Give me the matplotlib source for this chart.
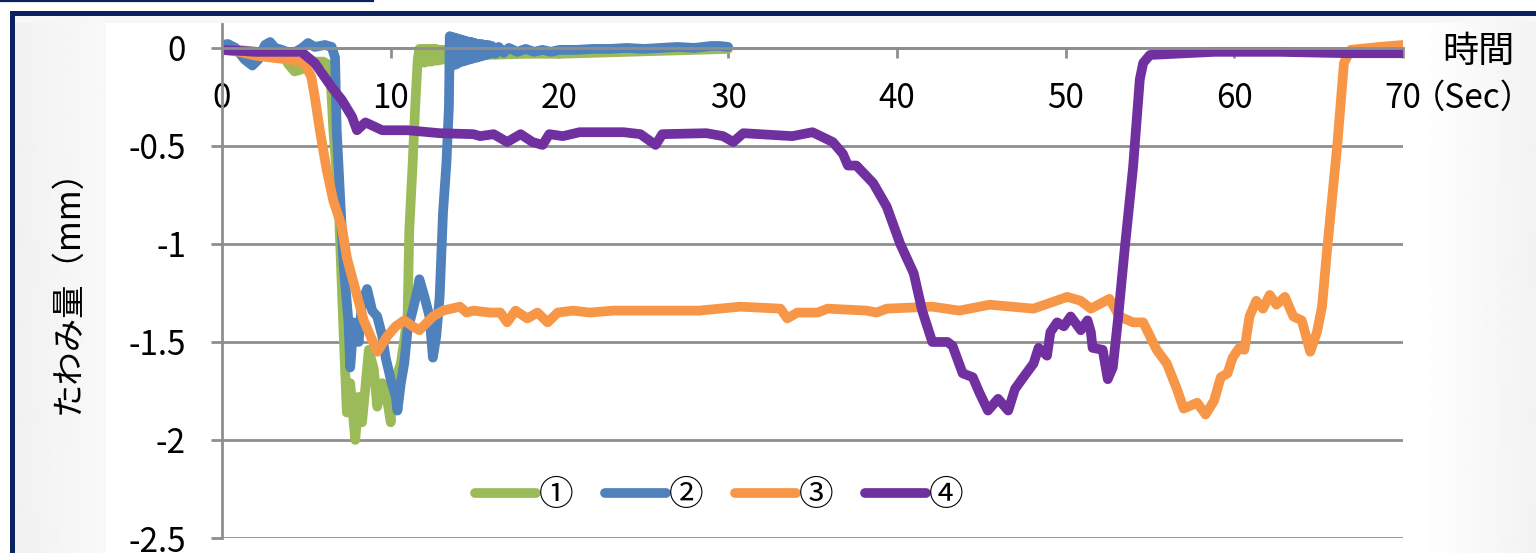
import matplotlib
matplotlib.use("Agg")
import numpy as np
import matplotlib.pyplot as plt
from matplotlib.patches import Rectangle
from matplotlib.lines import Line2D

plt.rcParams['font.family'] = ['Noto Sans CJK JP', 'DejaVu Sans']
plt.rcParams['axes.unicode_minus'] = False

# ---------------- data ----------------
series_labels = ['①', '②', '③', '④']
series_colors = ['#9BBB59', '#4F81BD', '#F79646', '#7030A0']

x_ticks = [0, 10, 20, 30, 40, 50, 60, 70]
y_ticks = [0, -0.5, -1, -1.5, -2, -2.5]
y_tick_labels = ['0', '-0.5', '-1', '-1.5', '-2', '-2.5']

t1 = [0, 1, 2, 3, 3.6, 4.0, 4.3, 4.7, 5.0, 5.5, 6.0, 6.4, 6.6, 6.9, 7.2, 7.4, 7.6, 7.9, 8.1, 8.3,
      8.5, 8.7, 9.0, 9.2, 9.5, 9.8, 10.0, 10.1, 10.4, 10.6, 11.0, 11.1, 11.3, 11.45, 11.6, 11.7, 11.8, 11.9, 12.0, 12.1,
      12.2, 12.3, 12.4, 12.5, 12.6, 12.7, 12.8, 12.9, 13.0, 13.1, 13.2, 13.3, 13.4, 13.6, 14, 15, 16, 18, 20, 22,
      24, 26, 28, 30]
v1 = [0.0, -0.01, -0.02, -0.03, -0.04, -0.09, -0.12, -0.11, -0.08, -0.07, -0.07, -0.09, -0.42, -0.76, -1.44, -1.86, -1.71, -2.0, -1.78, -1.91,
      -1.73, -1.54, -1.64, -1.83, -1.71, -1.80, -1.91, -1.71, -1.66, -1.61, -1.37, -0.93, -0.59, -0.3, -0.06, -0.005, -0.075, -0.005, -0.075, -0.005,
      -0.07, -0.005, -0.07, -0.005, -0.065, -0.005, -0.065, -0.01, -0.06, -0.01, -0.06, -0.01, -0.055, -0.035, -0.04, -0.035, -0.035, -0.03, -0.03, -0.025,
      -0.02, -0.015, -0.01, -0.005]

t2 = [0, 0.35, 0.8, 1.35, 1.8, 2.15, 2.55, 2.85, 3.15, 3.55, 4.15, 4.75, 5.1, 5.5, 6.1, 6.5, 6.7,
      6.8, 7.0, 7.2, 7.5, 7.6, 7.8, 8.1, 8.3, 8.6, 8.9, 9.2, 9.5, 9.7, 10.0, 10.3, 10.4, 10.6, 10.8, 11.0,
      11.3, 11.6, 11.7, 12.0, 12.3, 12.5, 12.7, 12.9, 13.1, 13.3, 13.45,
      13.50, 13.55, 13.60, 13.65, 13.70, 13.75, 13.80, 13.85, 13.90, 13.95, 14.00, 14.05, 14.10, 14.15, 14.20, 14.25,
      14.30, 14.35, 14.40, 14.45, 14.50, 14.55, 14.60, 14.65, 14.70, 14.75, 14.80, 14.85, 14.90, 14.95, 15.00,
      15.1, 15.2, 15.3, 15.4, 15.5, 15.6, 15.7, 15.8, 15.9, 16.0,
      16.2, 16.4, 16.7, 17.0, 17.5, 18.0, 18.5, 19.0, 19.5, 20,
      21, 22, 23, 24, 25, 26, 27, 28, 29, 29.5, 30]
v2 = [0.015, 0.02, 0.0, -0.06, -0.09, -0.06, 0.015, 0.03, 0.0, -0.01, -0.03, 0.0, 0.025, 0.005, 0.015, 0.005, -0.05,
      -0.42, -0.76, -1.1, -1.40, -1.63, -1.40, -1.50, -1.30, -1.23, -1.34, -1.37, -1.47, -1.58, -1.69, -1.78, -1.85, -1.71, -1.61, -1.44,
      -1.34, -1.23, -1.18, -1.27, -1.37, -1.58, -1.47, -1.27, -0.84, -0.59, -0.3,
      0.06, -0.09, 0.055, -0.09, 0.055, -0.085, 0.05, -0.085, 0.05, -0.08, 0.045, -0.075, 0.045, -0.07, 0.04, -0.07,
      0.04, -0.065, 0.035, -0.065, 0.035, -0.06, 0.03, -0.06, 0.03, -0.055, 0.03, -0.055, 0.025, -0.05, 0.025,
      -0.05, 0.02, -0.045, 0.02, -0.04, 0.015, -0.035, 0.015, -0.03, 0.01,
      -0.03, 0.005, -0.025, 0.0, -0.02, -0.005, -0.02, -0.01, -0.02, -0.01,
      -0.01, -0.005, -0.005, 0.0, -0.005, 0.0, 0.005, 0.0, 0.01, 0.01, 0.005]

t3 = [0, 1, 2, 3, 4, 4.6, 4.9, 5.3, 5.5, 5.8, 6.2, 6.6, 7.1, 7.4, 7.9, 8.4, 8.9, 9.2, 9.8, 10.3,
      10.8, 11.3, 11.7, 12.5, 13.1, 14.1, 14.5, 14.9, 15.9, 16.5, 16.9, 17.4, 18.1, 18.7, 19.3, 19.9, 20.8, 21.8, 23.2, 25.8,
      28.3, 30.7, 33.1, 33.5, 34.1, 35.3, 35.9, 38.2, 38.8, 39.4, 42.1, 43.7, 45.5, 48.1, 50.1, 50.9, 51.5, 52.6, 53.2, 54.0,
      54.6, 55.4, 56.0, 56.6, 57.0, 57.8, 58.3, 58.8, 59.2, 59.6, 59.9, 60.3, 60.6, 60.9, 61.3, 61.7, 62.1, 62.5, 63.0, 63.5,
      64.0, 64.5, 64.9, 65.2, 65.5, 66.1, 66.5, 66.9, 68.6, 70]
v3 = [-0.01, -0.02, -0.04, -0.05, -0.06, -0.07, -0.08, -0.15, -0.25, -0.42, -0.62, -0.78, -0.91, -1.07, -1.23, -1.39, -1.49, -1.55, -1.47, -1.42,
      -1.39, -1.42, -1.44, -1.37, -1.34, -1.32, -1.35, -1.34, -1.35, -1.35, -1.40, -1.34, -1.38, -1.35, -1.40, -1.35, -1.34, -1.35, -1.34, -1.34,
      -1.34, -1.32, -1.33, -1.38, -1.35, -1.35, -1.33, -1.34, -1.35, -1.33, -1.32, -1.34, -1.31, -1.33, -1.27, -1.29, -1.33, -1.28, -1.37, -1.40,
      -1.40, -1.54, -1.61, -1.74, -1.84, -1.81, -1.87, -1.80, -1.68, -1.66, -1.58, -1.53, -1.54, -1.37, -1.29, -1.33, -1.26, -1.31, -1.27, -1.37,
      -1.39, -1.55, -1.45, -1.32, -1.03, -0.5, -0.077, -0.01, 0.005, 0.015]

t4 = [0, 1, 2, 3, 4, 4.7, 5.5, 6.5, 7.1, 7.7, 8.0, 8.5, 9.5, 11.0, 12.9, 14.9, 15.3, 16.1, 16.9, 17.7,
      18.4, 19.0, 19.4, 20.2, 21.2, 23.8, 24.8, 25.7, 26.1, 28.7, 29.7, 30.3, 30.9, 33.8, 35.0, 36.2, 36.8, 37.1, 37.6, 38.6,
      39.4, 40.2, 41.0, 41.5, 42.1, 43.0, 43.3, 43.9, 44.5, 44.9, 45.4, 46.0, 46.6, 47.0, 47.5, 48.1, 48.4, 48.9, 49.1, 49.5,
      49.9, 50.3, 50.9, 51.3, 51.5, 51.6, 52.2, 52.5, 52.8, 53.1, 53.5, 54.0, 54.4, 54.6, 55.0, 58.8, 62.7, 66.7, 70]
v4 = [-0.01, -0.015, -0.02, -0.02, -0.02, -0.02, -0.077, -0.2, -0.265, -0.35, -0.42, -0.38, -0.42, -0.42, -0.435, -0.44, -0.45, -0.44, -0.48, -0.44,
      -0.48, -0.495, -0.44, -0.45, -0.43, -0.43, -0.44, -0.495, -0.44, -0.435, -0.45, -0.48, -0.435, -0.45, -0.43, -0.48, -0.54, -0.6, -0.6, -0.69,
      -0.81, -1.0, -1.15, -1.34, -1.5, -1.5, -1.52, -1.66, -1.68, -1.76, -1.85, -1.79, -1.85, -1.74, -1.68, -1.61, -1.53, -1.57, -1.45, -1.40,
      -1.42, -1.37, -1.44, -1.39, -1.45, -1.53, -1.54, -1.69, -1.63, -1.39, -1.03, -0.61, -0.16, -0.077, -0.036, -0.02, -0.02, -0.027, -0.027]

series_t = [t1, t2, t3, t4]
series_v = [v1, v2, v3, v4]
for a, b in zip(series_t, series_v):
    assert len(a) == len(b), (len(a), len(b))

# ---------------- figure ----------------
W, H = 1536, 553
fig = plt.figure(figsize=(W / 100, H / 100), dpi=100)
fig.patch.set_facecolor('white')

def fx(px):
    return px / W

def fy(py):
    return 1 - py / H

navy = '#0B2260'

# slide background gradient inside the frame (decorative)
bg = fig.add_axes([fx(12), 0, 1 - fx(12), fy(13)], zorder=-2)
bg.set_axis_off()
px_pos = np.arange(12, 1536)
shade = np.interp(px_pos, [12, 105, 106, 1419, 1420, 1536], [0.945, 0.975, 1.0, 1.0, 1.0, 0.95])
img = np.tile(shade, (2, 1))
bg.imshow(img, cmap='gray', vmin=0, vmax=1, aspect='auto', extent=[0, 1, 0, 1], interpolation='bilinear')
bg.set_xlim(0, 1)
bg.set_ylim(0, 1)

# slide frame
fig.add_artist(Rectangle((fx(12), -0.1), 1.2, fy(13) + 0.1, transform=fig.transFigure,
                         facecolor='none', edgecolor=navy, linewidth=3.6, zorder=1))
fig.add_artist(Line2D([0, fx(373)], [fy(1), fy(1)], transform=fig.transFigure,
                      color=navy, linewidth=1.6, zorder=1))
# strip above the white chart area
fig.add_artist(Rectangle((fx(14), fy(23)), 1.0, fy(15) - fy(23), transform=fig.transFigure,
                         facecolor='#f7f7f7', edgecolor='none', zorder=0.5))

ax = fig.add_axes([fx(222), fy(538), fx(1403) - fx(222), fy(24) - fy(538)])
ax.set_facecolor('none')
ax.set_zorder(2)

lw = 7.0
for t, v, c, lab in zip(series_t, series_v, series_colors, series_labels):
    ax.plot(t, v, color=c, linewidth=lw, label=lab, solid_capstyle='round',
            solid_joinstyle='round')

ax.set_xlim(0, 70)
ax.set_ylim(-2.5, 0.122)

grid_c = '#8E8E8E'
ax.set_yticks(y_ticks)
ax.set_yticklabels(y_tick_labels)
ax.set_xticks(x_ticks)
ax.set_xticklabels([str(x) for x in x_ticks])
ax.yaxis.grid(True, color=grid_c, linewidth=2.0)
ax.set_axisbelow(True)

for s in ['top', 'right']:
    ax.spines[s].set_visible(False)
ax.spines['left'].set_color(grid_c)
ax.spines['left'].set_linewidth(2.0)
ax.spines['bottom'].set_position(('data', 0))
ax.spines['bottom'].set_color(grid_c)
ax.spines['bottom'].set_linewidth(2.0)

ax.tick_params(axis='y', direction='out', length=8, width=2.0, color=grid_c,
               labelsize=24, pad=18, labelcolor='black')
ax.tick_params(axis='x', direction='out', length=7, width=2.0, color=grid_c,
               labelsize=24, pad=16.5, labelcolor='black')

leg = ax.legend(loc='center', bbox_to_anchor=(0.421, 0.082), ncol=4, frameon=False,
                fontsize=25, handlelength=1.76, handletextpad=0.08, columnspacing=0.91)

fig.text(fx(68), fy(283), 'たわみ量（mm）', rotation=90, ha='center', va='center', fontsize=24)
fig.text(fx(1478), fy(52), '時間', ha='center', va='center', fontsize=26)
fig.text(fx(1473), fy(98), '（Sec）', ha='center', va='center', fontsize=24)

fig.savefig('out.png', dpi=100, facecolor=fig.get_facecolor())
